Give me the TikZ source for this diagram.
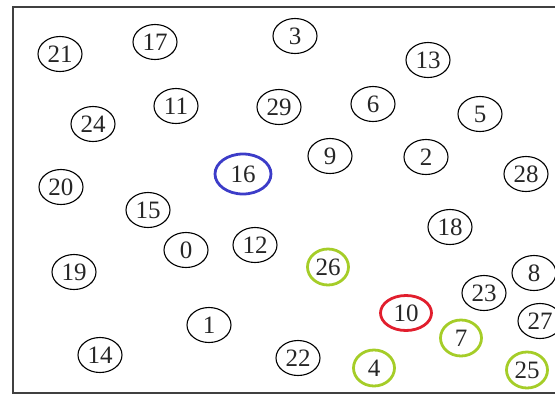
\documentclass[tikz,border=0pt]{standalone}
\usepackage{fontspec}
\setmainfont{Liberation Serif}
\usetikzlibrary{shapes.geometric}
\definecolor{bluec}{RGB}{60,60,200}
\definecolor{redc}{RGB}{225,30,45}
\definecolor{greenc}{RGB}{165,205,40}
\begin{document}
\begin{tikzpicture}[x=1pt,y=-1pt,
  nd/.style={ellipse,draw,line width=1.1pt,minimum width=44pt,minimum height=35pt,inner sep=0pt,text=black!85,font=\fontsize{25}{25}\selectfont},
  bluend/.style={nd,draw=bluec,line width=2.8pt,minimum width=56pt,minimum height=40pt},
  rednd/.style={nd,draw=redc,line width=2.8pt,minimum width=51pt,minimum height=35pt},
  greennd/.style={nd,draw=greenc,line width=2.8pt,minimum width=41pt,minimum height=36pt}]
\useasboundingbox (0,0) rectangle (555,394);
\begin{scope}
\clip (0,0) rectangle (555,394);
\draw[line width=1.8pt,black!75] (13,7) rectangle (580,393);
\end{scope}
\node[nd] (n21) at (60,54) {21};
\node[nd] (n17) at (155,42) {17};
\node[nd] (n3) at (295,36) {3};
\node[nd] (n13) at (428,60) {13};
\node[nd] (n11) at (176,106) {11};
\node[nd] (n29) at (279,107) {29};
\node[nd] (n6) at (373,104) {6};
\node[nd] (n5) at (480,114) {5};
\node[nd] (n24) at (93,124) {24};
\node[nd] (n9) at (330,156) {9};
\node[nd] (n2) at (426,157) {2};
\node[nd] (n28) at (526,174) {28};
\node[bluend] (n16) at (243,174) {16};
\node[nd] (n20) at (61,187) {20};
\node[nd] (n15) at (148,210) {15};
\node[nd] (n18) at (450,227) {18};
\node[nd] (n0) at (186,250) {0};
\node[nd] (n12) at (255,245) {12};
\node[greennd] (n26) at (328,267) {26};
\node[nd] (n19) at (74,272) {19};
\node[nd] (n8) at (534,273) {8};
\node[nd] (n23) at (484,293) {23};
\node[rednd] (n10) at (406,313) {10};
\node[nd] (n27) at (540,321) {27};
\node[greennd] (n7) at (461,338) {7};
\node[nd] (n1) at (209,325) {1};
\node[nd] (n14) at (100,355) {14};
\node[nd] (n22) at (298,358) {22};
\node[greennd] (n4) at (374,368) {4};
\node[greennd] (n25) at (527,370) {25};
\end{tikzpicture}
\end{document}
